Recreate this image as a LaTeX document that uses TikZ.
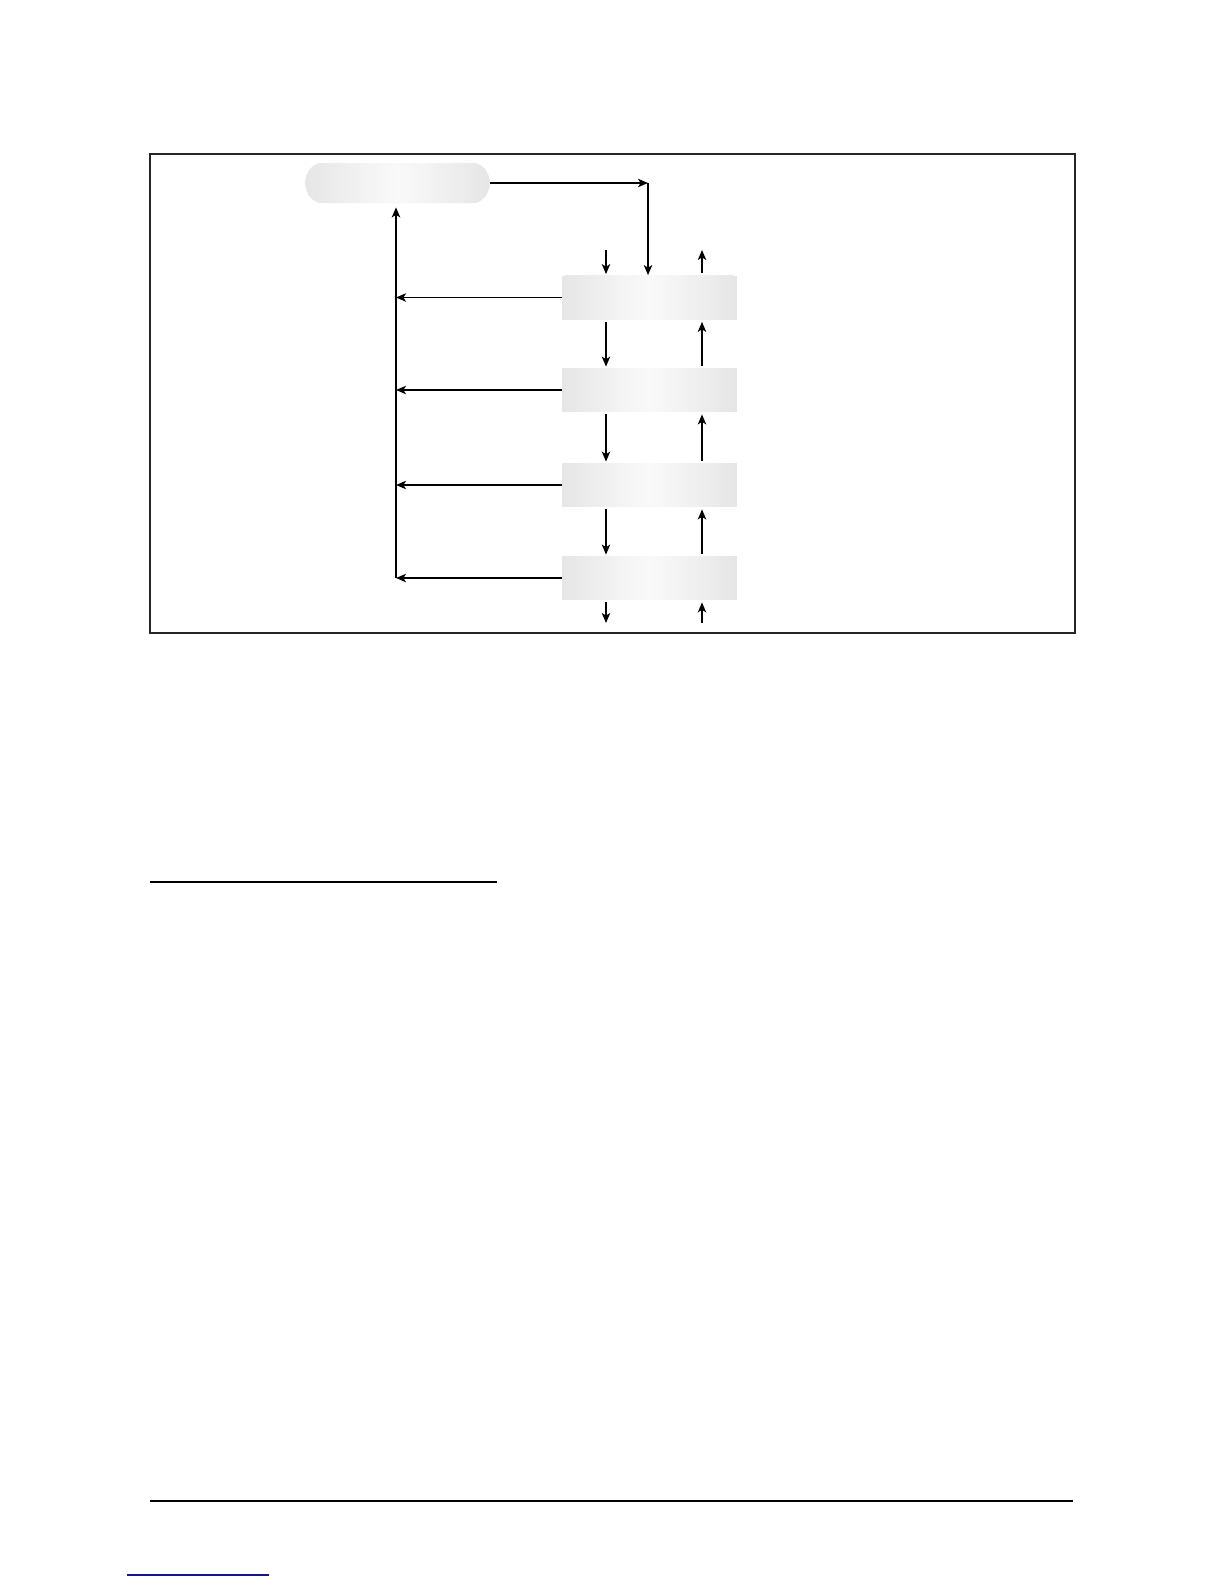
\documentclass[tikz,border=0pt]{standalone}
\usetikzlibrary{arrows.meta,calc}
\definecolor{linkblue}{RGB}{20,20,140}
\definecolor{edgegray}{RGB}{230,230,230}
\newcommand\myglossfill[1]{%
  \foreach \k in {0.02,0.04,...,0.49} {%
    \pgfmathsetmacro\gv{(230+40*\k)/255}%
    \definecolor{tmpc}{gray}{\gv}%
    \fill[tmpc] ($(#1.south west)!\k!(#1.south east)$) rectangle ($(#1.north east)!\k!(#1.north west)$);
  }%
}
\begin{document}
\begin{tikzpicture}[x=0.5bp,y=-0.5bp,
  conn/.style={line width=0.75bp, -{Stealth[length=5bp,width=4.2bp,inset=1.3bp]}},
  blk/.style={rectangle, minimum width=87.5bp, minimum height=22bp, inner sep=0pt, fill=edgegray},
  pillbox/.style={rectangle, rounded corners=10bp, minimum width=92.5bp, minimum height=20bp, inner sep=0pt, fill=edgegray},
  framebox/.style={line width=1.1bp, draw=black!85},
  rulebar/.style={line width=1.1bp}
]
\useasboundingbox (0,0) rectangle (1224,1584);

% frame
\draw[framebox] (150,154) rectangle (1075,633);

% nodes
\node[pillbox] (p) at (397.5,183) {};
\node[blk] (b1) at (649.5,297.5) {};
\node[blk] (b2) at (649.5,390) {};
\node[blk] (b3) at (649.5,485) {};
\node[blk] (b4) at (649.5,578) {};

% glossy fills
\begin{scope}
  \clip[rounded corners=10bp] (p.south west) rectangle (p.north east);
  \myglossfill{p}
\end{scope}
\myglossfill{b1}
\myglossfill{b2}
\myglossfill{b3}
\myglossfill{b4}

% coordinates
\coordinate (c1) at (648,183);
\coordinate (tin) at (606,250);
\coordinate (tout) at (702,250);
\coordinate (bout) at (606,623);
\coordinate (bin) at (702,623);
\coordinate (l1) at (396,297.5);
\coordinate (l2) at (396,390);
\coordinate (l3) at (396,485);
\coordinate (l4) at (396,578);

% top connectors
\draw[conn] (p.east) -- (c1);
\draw[conn] (c1) -- (c1 |- b1.north);

% left return arrows
\draw[conn] (b1.west) -- (l1);
\draw[conn] (b2.west) -- (l2);
\draw[conn] (b3.west) -- (l3);
\draw[conn] (b4.west) -- (l4);
\draw[conn, shorten >=2bp] (l4) -- (p.south -| l4);

% down chain
\draw[conn, shorten >=0.5bp] (tin) -- (tin |- b1.north);
\draw[conn, shorten <=1bp, shorten >=0.5bp] (tin |- b1.south) -- (tin |- b2.north);
\draw[conn, shorten <=1bp, shorten >=0.5bp] (tin |- b2.south) -- (tin |- b3.north);
\draw[conn, shorten <=1bp, shorten >=0.5bp] (tin |- b3.south) -- (tin |- b4.north);
\draw[conn, shorten <=1bp] (tin |- b4.south) -- (bout);

% up chain
\draw[conn, shorten <=1bp] (tout |- b1.north) -- (tout);
\draw[conn, shorten <=1bp, shorten >=1bp] (tout |- b2.north) -- (tout |- b1.south);
\draw[conn, shorten <=1bp, shorten >=1bp] (tout |- b3.north) -- (tout |- b2.south);
\draw[conn, shorten <=1bp, shorten >=1bp] (tout |- b4.north) -- (tout |- b3.south);
\draw[conn, shorten >=1bp] (bin) -- (bin |- b4.south);

% rules
\draw[rulebar] (150,882) -- (497,882);
\draw[line width=0.8bp] (150,1501) -- (1073,1501);
\draw[line width=0.8bp, draw=linkblue] (127,1575) -- (269,1575);
\end{tikzpicture}
\end{document}
